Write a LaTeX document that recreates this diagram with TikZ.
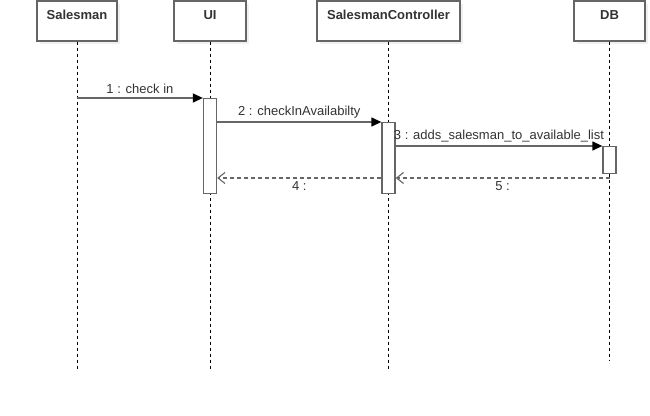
\documentclass[tikz,border=0pt]{standalone}
\usepackage{fontspec}
\setmainfont{Liberation Sans}
\usetikzlibrary{arrows.meta, positioning, shadows}
\definecolor{linegray}{HTML}{666666}
\definecolor{textgray}{HTML}{333333}
\tikzstyle{head} = [draw=linegray, fill=white, rectangle, line width=1.3pt, minimum height=40pt, text height=10pt, text depth=14pt, font=\fontsize{13}{15}\selectfont\bfseries, drop shadow={opacity=0.12, shadow xshift=3pt, shadow yshift=-3pt}]
\tikzstyle{act} = [draw=linegray, fill=white, rectangle, line width=1.3pt, minimum width=13pt, inner sep=0pt, anchor=north]
\tikzstyle{life} = [draw=black, line width=0.9pt, dash pattern=on 3pt off 3pt]
\tikzstyle{call} = [draw=linegray, line width=1.3pt, -{Triangle[length=10pt, width=9pt, black]}]
\tikzstyle{ret} = [draw=linegray, line width=1.1pt, dash pattern=on 4pt off 3pt, -{Straight Barb[length=7pt, width=11pt]}]

\begin{document}
\begin{tikzpicture}[x=1pt, y=-1pt, text=textgray, font=\fontsize{13}{15}\selectfont]
    \useasboundingbox (0,0) rectangle (650,415);
    % participants
    \node [head, minimum width=80pt] (salesman) at (77,21) {Salesman};
    \node [head, minimum width=72pt] (ui) at (210,21) {UI};
    \node [head, minimum width=143pt] (ctrl) at (388.5,21) {SalesmanController};
    \node [head, minimum width=71pt] (db) at (609.5,21) {DB};
    % lifelines
    \coordinate (salesman end) at (77,370);
    \coordinate (ui end) at (210,370);
    \coordinate (ctrl end) at (388.5,370);
    \coordinate (db end) at (609.5,361);
    \draw [life] (salesman) -- (salesman end);
    \draw [life] (ui) -- (ui end);
    \draw [life] (ctrl) -- (ctrl end);
    \draw [life] (db) -- (db end);
    % activations
    \node [act, minimum height=95pt] (uiact) at (210,98) {};
    \node [act, minimum height=71pt] (ctrlact) at (388.5,122) {};
    \node [act, minimum height=27pt] (dbact) at (609.5,146) {};
    % messages
    \draw [call] (salesman |- uiact.north) -- node [above] {1 : check in} (uiact.north west);
    \draw [call] (uiact.east |- ctrlact.north) -- node [above] {2 : checkInAvailabilty} (ctrlact.north west);
    \draw [call] (ctrlact.east |- dbact.north) -- node [above] {3 : adds\_salesman\_to\_available\_list} (dbact.north west);
    \coordinate (back) at (0,178);
    \draw [ret] (ctrlact.west |- back) -- node [below] {4 :} (uiact.east |- back);
    \draw [ret] (db |- back) -- node [below] {5 :} (ctrlact.east |- back);
\end{tikzpicture}
\end{document}
